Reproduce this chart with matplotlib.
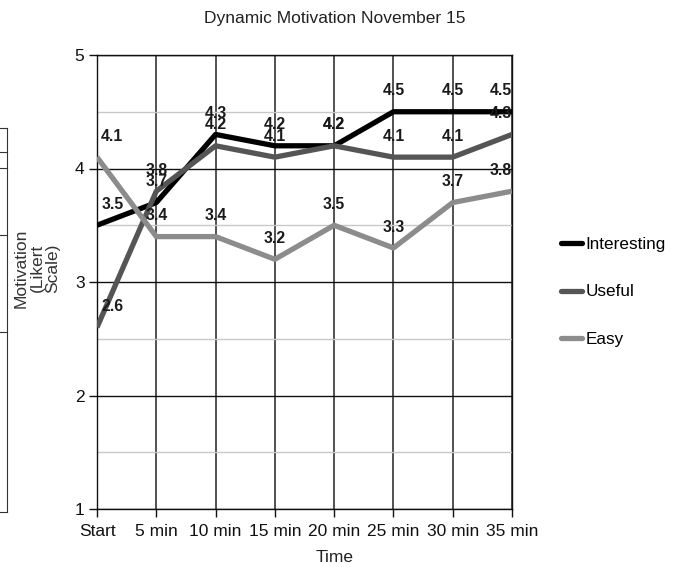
import numpy as np
import matplotlib.pyplot as plt
from matplotlib.lines import Line2D

plt.rcParams['font.family'] = ['Liberation Sans', 'DejaVu Sans']

times = ['Start', '5 min', '10 min', '15 min', '20 min', '25 min', '30 min', '35 min']
interesting = [3.5, 3.7, 4.3, 4.2, 4.2, 4.5, 4.5, 4.5]
useful = [2.6, 3.8, 4.2, 4.1, 4.2, 4.1, 4.1, 4.3]
easy = [4.1, 3.4, 3.4, 3.2, 3.5, 3.3, 3.7, 3.8]

names = ['Interesting', 'Useful', 'Easy']
colors = ['#000000', '#555555', '#8c8c8c']

W, H = 682, 567
fig = plt.figure(figsize=(W/100, H/100), dpi=100)
ax = fig.add_axes([97/W, 1-509/H, 415/W, 454/H])

x = np.arange(len(times))
series = [interesting, useful, easy]
for ys, name, c in zip(series, names, colors):
    ax.plot(x, ys, color=c, lw=3.8, label=name, zorder=3, solid_capstyle='butt')
    for i, v in enumerate(ys):
        ha = 'center'
        dx = 0
        if i == 0:
            ha, dx = 'left', 3
        elif i == len(ys)-1:
            ha, dx = 'right', 0
        ax.annotate(str(v), (i, v), xytext=(dx, 15), textcoords='offset points',
                    ha=ha, va='center', fontsize=11.3, fontweight='bold',
                    color='#1a1a1a', zorder=4)

ax.set_xlim(0, len(times)-1)
ax.set_ylim(1, 5)
ax.set_xticks(x)
ax.set_xticklabels(times)
ax.set_yticks([1, 2, 3, 4, 5])
ax.set_yticks([1.5, 2.5, 3.5, 4.5], minor=True)
ax.tick_params(axis='both', which='major', direction='out', length=6, width=1,
               labelsize=12.5, colors='#111111', pad=3)
ax.tick_params(axis='y', which='minor', length=0)
ax.tick_params(axis='x', pad=5)
ax.grid(True, which='major', axis='y', color='#111111', lw=1)
ax.grid(True, which='minor', axis='y', color='#c8c8c8', lw=1)
ax.grid(True, which='major', axis='x', color='#333333', lw=1.2)
for s in ax.spines.values():
    s.set_color('#111111')
    s.set_linewidth(1)
ax.set_axisbelow(True)

fig.text(335/W, 1-18/H, 'Dynamic Motivation November 15', ha='center', va='center',
         fontsize=12.5, color='#222222')
fig.text(335/W, 1-557/H, 'Time', ha='center', va='center', fontsize=12.5, color='#222222')
fig.text(37/W, 1-268/H, 'Motivation\n(Likert\nScale)', rotation=90, ha='center', va='center',
         multialignment='center', linespacing=1.07, fontsize=12.5, color='#333333')

handles = [Line2D([0], [0], color=c, lw=3.8, solid_capstyle='round') for c in colors]
fig.legend(handles, names, loc='center left', bbox_to_anchor=(561/W, 1-292/H),
           frameon=False, fontsize=12.3, handlelength=1.2, handletextpad=0.25,
           labelspacing=1.9, borderpad=0, borderaxespad=0)

# clipped fragment of neighbouring page element on the left
fig.patches.append(plt.Rectangle((0, 1-512/H), 13/W, 384/H, transform=fig.transFigure,
                                 facecolor='white', edgecolor='none', zorder=5))
fig.add_artist(Line2D([7/W, 7/W], [1-128/H, 1-512/H], color='#333333', lw=0.8, zorder=6))
for yy in [128, 152, 168, 235, 332, 512]:
    fig.add_artist(Line2D([0, 7/W], [1-yy/H, 1-yy/H], color='#333333', lw=0.8, zorder=6))

fig.savefig('out.png', dpi=100)
